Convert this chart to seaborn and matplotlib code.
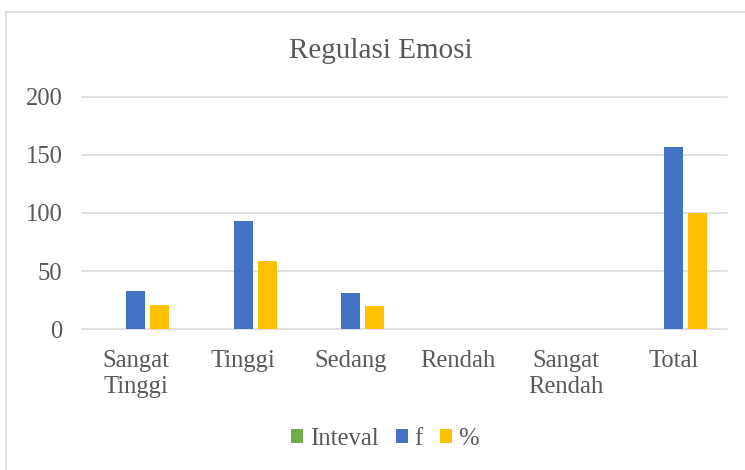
import pandas as pd
import matplotlib.pyplot as plt
import seaborn as sns
from matplotlib.lines import Line2D

categories = ["Sangat\nTinggi", "Tinggi", "Sedang", "Rendah", "Sangat\nRendah", "Total"]
inteval = [0, 0, 0, 0, 0, 0]
f_values = [33, 93, 31, 0, 0, 157]
pct_values = [21, 59, 20, 0, 0, 100]
series_names = ["Inteval", "f", "%"]
colors = ["#70AD47", "#4472C4", "#FFC000"]
y_ticks = [0, 50, 100, 150, 200]
title = "Regulasi Emosi"

TEXT = "#595959"
GRID = "#D9D9D9"


def build_frame():
    rows = []
    for name, vals in zip(series_names, [inteval, f_values, pct_values]):
        for cat, v in zip(categories, vals):
            rows.append({"Kategori": cat, "Nilai": v, "Seri": name})
    return pd.DataFrame(rows)


def main():
    sns.set_theme(style="white")
    plt.rcParams["font.family"] = ["Liberation Serif", "DejaVu Serif"]

    df = build_frame()
    fig = plt.figure(figsize=(7.45, 4.70), dpi=100)
    ax = fig.add_axes([82 / 745, 1 - 329 / 470, 645 / 745, 232 / 470])

    sns.barplot(data=df, x="Kategori", y="Nilai", hue="Seri",
                palette=colors, width=0.67, gap=0.2, linewidth=0,
                saturation=1, ax=ax)

    handles, labels = ax.get_legend_handles_labels()
    ax.legend_.remove()

    ax.set_ylim(0, 200)
    ax.set_yticks(y_ticks)
    ax.set_xlabel("")
    ax.set_ylabel("")
    ax.yaxis.grid(True, color=GRID, linewidth=1.2)
    ax.set_axisbelow(True)
    for s in ax.spines.values():
        s.set_visible(False)
    ax.tick_params(axis="y", length=0, pad=14, labelsize=17.7, labelcolor=TEXT)
    ax.tick_params(axis="x", length=0, pad=15, labelsize=17.7, labelcolor=TEXT)
    for t in ax.get_xticklabels():
        t.set_linespacing(1.25)
    for line in ax.get_ygridlines():
        line.set_clip_on(False)

    fig.text(381 / 745, 1 - 58 / 470, title, ha="center", va="baseline",
             fontsize=21, color=TEXT)

    fig.legend(handles, labels, loc="center", bbox_to_anchor=(385 / 745, 1 - 439 / 470),
               ncol=3, frameon=False, fontsize=17.8, labelcolor=TEXT,
               handlelength=0.5, handleheight=0.5, handletextpad=0.25,
               columnspacing=0.7, borderpad=0)

    # chart border (only top and left visible in the crop)
    fig.add_artist(Line2D([6.5 / 745, 6.5 / 745], [0, 1 - 11.5 / 470],
                          transform=fig.transFigure, color=GRID, linewidth=1.2))
    fig.add_artist(Line2D([6.5 / 745, 1], [1 - 11.5 / 470, 1 - 11.5 / 470],
                          transform=fig.transFigure, color=GRID, linewidth=1.2))

    fig.savefig("out.png", dpi=100, facecolor="white")
    plt.close(fig)


if __name__ == "__main__":
    main()
